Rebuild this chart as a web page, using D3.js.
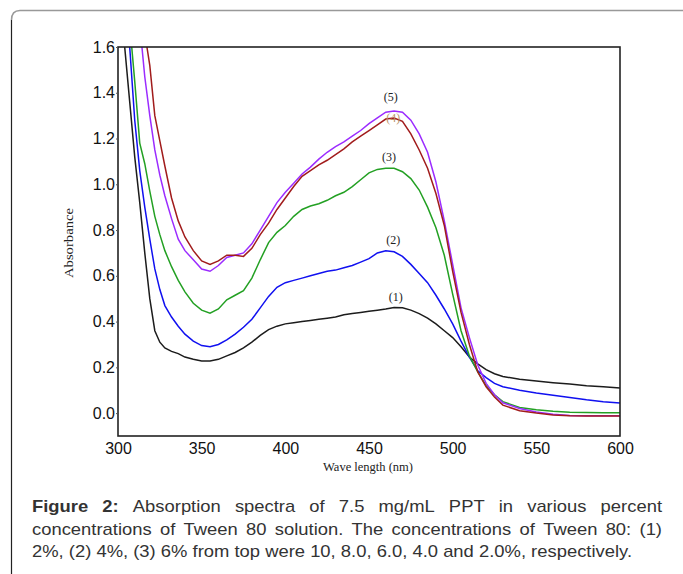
<!DOCTYPE html>
<html lang="en">
<head>
  <meta charset="UTF-8">
  <title>Absorption spectra of PPT in Tween 80</title>
  <script src="https://d3js.org/d3.v7.min.js"></script>
  <style>
    body { margin: 0; background: #fff; }
  </style>
</head>
<body>
  <svg width="683" height="574"></svg>

  <script>
    // wavelength grid (nm) shared by every spectrum
    const wavelengths = [300, 304, 307, 310, 313, 316, 319, 322, 325, 328, 332, 336, 340, 345, 350, 355,
      360, 365, 370, 375, 380, 385, 390, 395, 400, 405, 410, 415, 420, 425, 430, 435, 440, 445, 450,
      455, 460, 465, 470, 475, 480, 485, 490, 495, 500, 505, 510, 515, 520, 525, 530, 540, 550, 560,
      570, 580, 590, 600];

    // absorbance, one array per Tween 80 concentration
    const abs1 = [2.4, 1.6, 1.36, 1.12, 0.92, 0.70, 0.50, 0.36, 0.31, 0.285, 0.27, 0.26, 0.245, 0.235, 0.228, 0.228,
      0.235, 0.25, 0.265, 0.285, 0.31, 0.34, 0.365, 0.38, 0.39, 0.395, 0.40, 0.405, 0.41, 0.415, 0.42, 0.43, 0.435, 0.44, 0.445,
      0.45, 0.455, 0.462, 0.46, 0.45, 0.435, 0.415, 0.39, 0.36, 0.33, 0.29, 0.245, 0.215, 0.19, 0.172, 0.16, 0.148, 0.14, 0.133,
      0.127, 0.12, 0.115, 0.11];
    const abs2 = [2.4, 2.0, 1.6, 1.28, 1.06, 0.90, 0.76, 0.63, 0.54, 0.47, 0.42, 0.38, 0.345, 0.315, 0.295, 0.29,
      0.30, 0.32, 0.345, 0.375, 0.41, 0.46, 0.51, 0.55, 0.57, 0.58, 0.59, 0.60, 0.61, 0.62, 0.625, 0.635, 0.645, 0.66, 0.675,
      0.70, 0.71, 0.705, 0.685, 0.65, 0.61, 0.57, 0.515, 0.455, 0.39, 0.315, 0.245, 0.185, 0.155, 0.13, 0.115, 0.10, 0.088, 0.078,
      0.068, 0.058, 0.05, 0.044];
    const abs3 = [2.4, 2.1, 1.7, 1.45, 1.18, 1.09, 0.97, 0.86, 0.78, 0.71, 0.64, 0.58, 0.53, 0.48, 0.45, 0.437,
      0.455, 0.495, 0.515, 0.535, 0.59, 0.67, 0.745, 0.79, 0.82, 0.86, 0.89, 0.905, 0.915, 0.93, 0.95, 0.965, 0.99, 1.02, 1.05,
      1.065, 1.07, 1.07, 1.055, 1.025, 0.975, 0.9, 0.81, 0.69, 0.52, 0.36, 0.25, 0.18, 0.12, 0.08, 0.05, 0.025, 0.015, 0.008,
      0.004, 0.003, 0.002, 0.002];
    const abs4 = [2.6, 2.3, 2.1, 1.92, 1.78, 1.66, 1.52, 1.30, 1.19, 1.08, 0.94, 0.84, 0.77, 0.71, 0.665, 0.65,
      0.665, 0.69, 0.69, 0.685, 0.72, 0.78, 0.83, 0.89, 0.94, 0.99, 1.035, 1.06, 1.085, 1.105, 1.13, 1.155, 1.185, 1.21, 1.235,
      1.26, 1.285, 1.29, 1.275, 1.22, 1.15, 1.07, 0.96, 0.82, 0.62, 0.44, 0.30, 0.18, 0.115, 0.07, 0.035, 0.01, 0.0, -0.008,
      -0.012, -0.013, -0.013, -0.013];
    const abs5 = [2.8, 2.4, 2.1, 1.9, 1.7, 1.47, 1.3, 1.15, 1.04, 0.95, 0.85, 0.76, 0.71, 0.67, 0.63, 0.62,
      0.645, 0.68, 0.69, 0.70, 0.74, 0.80, 0.86, 0.92, 0.965, 1.005, 1.045, 1.075, 1.11, 1.14, 1.165, 1.185, 1.21, 1.235, 1.265,
      1.29, 1.315, 1.32, 1.315, 1.28, 1.22, 1.14, 1.01, 0.84, 0.65, 0.46, 0.33, 0.21, 0.13, 0.08, 0.045, 0.02, 0.005, -0.005,
      -0.01, -0.012, -0.012, -0.012];

    const seriesNames = ["(1)", "(2)", "(3)", "(4)", "(5)"];
    const seriesColors = ["#1c1c1c", "#1010f0", "#23a023", "#a11c1c", "#9b2cff"];
    const seriesValues = [abs1, abs2, abs3, abs4, abs5];
    // where each "(n)" tag sits: [wavelength, absorbance]
    const labelSpots = [[466, 0.507], [464.5, 0.756], [462, 1.12], [464.5, 1.29], [463, 1.38]];
    const drawOrder = [0, 1, 2, 4, 3];

    const xTicks = [300, 350, 400, 450, 500, 550, 600];
    const yTicks = [0.0, 0.2, 0.4, 0.6, 0.8, 1.0, 1.2, 1.4, 1.6];

    const captionLines = [
      "Absorption spectra of 7.5 mg/mL PPT in various percent",
      "concentrations of Tween 80 solution. The concentrations of Tween 80: (1)",
      "2%, (2) 4%, (3) 6% from top were 10, 8.0, 6.0, 4.0 and 2.0%, respectively."
    ];

    const svg = d3.select("svg");

    // outer panel border: grey top edge, dark left edge
    svg.append("path")
        .attr("d", "M11.5,20 Q11.5,10.5 20,10.5 H683")
        .attr("fill", "none")
        .attr("stroke", "#999")
        .attr("stroke-width", 1.5);
    svg.append("line")
        .attr("x1", 11.5).attr("x2", 11.5)
        .attr("y1", 20).attr("y2", 574)
        .attr("stroke", "#222")
        .attr("stroke-width", 1.2);

    const x = d3.scaleLinear().domain([300, 600]).range([118, 620]);
    const y = d3.scaleLinear().domain([-0.1, 1.6]).range([436, 47]);

    svg.append("clipPath").attr("id", "plot-clip")
      .append("rect")
        .attr("x", x(300)).attr("y", y(1.6))
        .attr("width", x(600) - x(300)).attr("height", y(-0.1) - y(1.6));

    const line = d3.line()
        .x((d, i) => x(wavelengths[i]))
        .y(d => y(d));

    const curves = svg.append("g").attr("clip-path", "url(#plot-clip)");
    drawOrder.forEach(k => {
      curves.append("path")
          .datum(seriesValues[k])
          .attr("fill", "none")
          .attr("stroke", seriesColors[k])
          .attr("stroke-width", 1.5)
          .attr("d", line);
    });

    // frame
    svg.append("rect")
        .attr("x", x(300)).attr("y", y(1.6))
        .attr("width", x(600) - x(300)).attr("height", y(-0.1) - y(1.6))
        .attr("fill", "none")
        .attr("stroke", "#222")
        .attr("stroke-width", 1.6);

    const yAxis = svg.append("g")
        .attr("transform", `translate(${x(300)},0)`)
        .call(d3.axisLeft(y).tickValues(yTicks).tickFormat(d3.format(".1f")).tickSize(2).tickPadding(1));
    const xAxis = svg.append("g")
        .attr("transform", `translate(0,${y(-0.1)})`)
        .call(d3.axisBottom(x).tickValues(xTicks).tickSize(0).tickPadding(7));
    [xAxis, yAxis].forEach(a => {
      a.select(".domain").remove();
      a.selectAll("text")
          .attr("font-family", "'Liberation Sans', Arial, sans-serif")
          .attr("font-size", 16)
          .attr("fill", "#111");
    });
    yAxis.selectAll("line").attr("stroke", "#555");

    svg.append("text")
        .attr("transform", "translate(73,243) rotate(-90)")
        .attr("text-anchor", "middle")
        .attr("font-family", "'Liberation Serif', 'Times New Roman', serif")
        .attr("font-size", 13.5)
        .attr("textLength", 70)
        .attr("lengthAdjust", "spacingAndGlyphs")
        .attr("fill", "#222")
        .text("Absorbance");

    svg.append("text")
        .attr("x", 368).attr("y", 471)
        .attr("text-anchor", "middle")
        .attr("font-family", "'Liberation Serif', 'Times New Roman', serif")
        .attr("font-size", 12.5)
        .attr("fill", "#222")
        .text("Wave length (nm)");

    svg.append("g").selectAll("text")
      .data(seriesNames)
      .join("text")
        .attr("x", (d, i) => x(labelSpots[i][0]))
        .attr("y", (d, i) => y(labelSpots[i][1]) + 4)
        .attr("text-anchor", "middle")
        .attr("font-family", "'Liberation Serif', 'Times New Roman', serif")
        .attr("font-size", 12)
        .attr("fill", (d, i) => i === 3 ? "#b9936a" : "#222")
        .text(d => d);

    // caption, justified like the journal layout
    const cap = svg.append("g")
        .attr("font-family", "'Liberation Sans', Arial, sans-serif")
        .attr("font-size", 17)
        .attr("fill", "#333");
    const capLeft = 32, capRight = 662;
    const baselines = [512, 535, 557];

    function measure(txt, bold) {
      const t = cap.append("text").attr("font-weight", bold ? "bold" : null).text(txt);
      const w = t.node().getComputedTextLength();
      t.remove();
      return w;
    }
    // squeeze factor so the last line ends where it does in the figure
    const squeeze = 600 / measure(captionLines[2], false);
    const space = (measure("a a", false) - measure("aa", false)) * squeeze;

    captionLines.forEach((ln, li) => {
      const words = ln.split(" ").map(w => ({ text: w, bold: false }));
      if (li === 0) words.unshift({ text: "Figure", bold: true }, { text: "2:", bold: true });
      words.forEach(w => w.width = measure(w.text, w.bold) * squeeze);
      const total = d3.sum(words, w => w.width);
      const gap = li < 2 ? (capRight - capLeft - total) / (words.length - 1) : space;
      let cx = capLeft;
      words.forEach(w => {
        cap.append("text")
            .attr("x", cx).attr("y", baselines[li])
            .attr("font-weight", w.bold ? "bold" : null)
            .attr("textLength", w.width)
            .attr("lengthAdjust", "spacingAndGlyphs")
            .text(w.text);
        cx += w.width + gap;
      });
    });
  </script>
</body>
</html>
